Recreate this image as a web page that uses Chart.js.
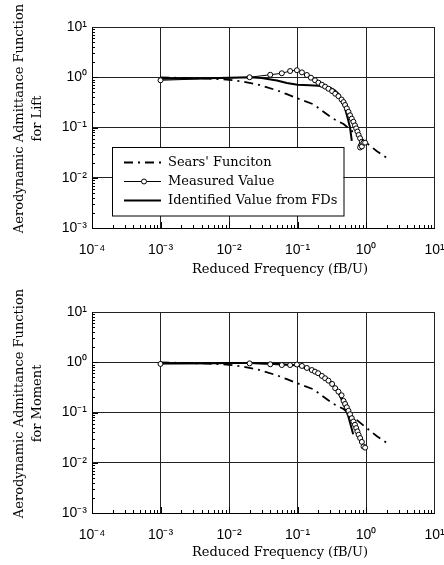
<!DOCTYPE html>
<html><head><meta charset="utf-8">
<script src="https://cdn.jsdelivr.net/npm/chart.js@4"></script>
<style>
html,body{margin:0;padding:0;background:#fff;}
#w1{position:absolute;left:0;top:0;width:444px;height:283px;}
#w2{position:absolute;left:0;top:283px;width:444px;height:282px;}
</style></head><body>
<div id="w1"><canvas id="c1"></canvas></div>
<div id="w2"><canvas id="c2"></canvas></div>
<script>
// ---- tick labels ----
const xTickValues = [1e-4, 1e-3, 1e-2, 1e-1, 1e0, 1e1];
const xTickLabels = ['10\u207B\u2074', '10\u207B\u00B3', '10\u207B\u00B2', '10\u207B\u00B9', '10\u2070', '10\u00B9'];
const yTickValues = [1e-3, 1e-2, 1e-1, 1e0, 1e1];
const yTickLabels = ['10\u207B\u00B3', '10\u207B\u00B2', '10\u207B\u00B9', '10\u2070', '10\u00B9'];

// ---- series ----
const seriesNames = ["Sears' Funciton", 'Measured Value', 'Identified Value from FDs'];

const searsX = [0.001, 0.002, 0.005, 0.01, 0.015, 0.025, 0.05, 0.07, 0.1, 0.17, 0.33, 0.47, 0.7, 1.0, 1.43, 2.0];
const searsY = [0.99, 0.97, 0.94, 0.89, 0.83, 0.73, 0.55, 0.46, 0.38, 0.29, 0.15, 0.117, 0.075, 0.05, 0.034, 0.025];

const liftMeasX = [0.001, 0.02, 0.04, 0.059, 0.078, 0.098, 0.116, 0.137, 0.157, 0.18, 0.202, 0.227, 0.253, 0.283, 0.32, 0.355, 0.396, 0.44, 0.47, 0.495, 0.525, 0.555, 0.585, 0.62, 0.655, 0.69, 0.72, 0.75, 0.78, 0.82, 0.87, 0.84, 0.82, 0.87, 0.92, 0.97];
const liftMeasY = [0.87, 1.0, 1.12, 1.2, 1.33, 1.38, 1.25, 1.11, 0.98, 0.87, 0.78, 0.71, 0.65, 0.59, 0.53, 0.47, 0.42, 0.36, 0.32, 0.28, 0.24, 0.205, 0.175, 0.15, 0.13, 0.11, 0.096, 0.083, 0.071, 0.061, 0.052, 0.044, 0.04, 0.042, 0.05, 0.05];

const liftIdX = [0.001, 0.005, 0.01, 0.02, 0.03, 0.05, 0.07, 0.1, 0.15, 0.2, 0.3, 0.35, 0.4, 0.44, 0.49, 0.52, 0.55, 0.585, 0.62];
const liftIdY = [0.93, 0.96, 0.98, 1.0, 0.97, 0.86, 0.77, 0.71, 0.69, 0.68, 0.62, 0.55, 0.46, 0.34, 0.25, 0.185, 0.14, 0.1, 0.054];

const momMeasX = [0.001, 0.02, 0.04, 0.059, 0.078, 0.098, 0.116, 0.137, 0.162, 0.18, 0.2, 0.227, 0.253, 0.283, 0.32, 0.355, 0.396, 0.44, 0.47, 0.495, 0.525, 0.555, 0.585, 0.62, 0.655, 0.69, 0.72, 0.75, 0.78, 0.82, 0.87, 0.92, 0.97];
const momMeasY = [0.925, 0.95, 0.91, 0.88, 0.88, 0.9, 0.845, 0.77, 0.70, 0.65, 0.605, 0.535, 0.48, 0.43, 0.37, 0.305, 0.26, 0.22, 0.17, 0.148, 0.127, 0.108, 0.092, 0.077, 0.066, 0.057, 0.049, 0.042, 0.036, 0.031, 0.026, 0.021, 0.02];

const momIdX = [0.001, 0.005, 0.01, 0.02, 0.05, 0.1, 0.15, 0.2, 0.25, 0.3, 0.35, 0.4, 0.45, 0.5, 0.55, 0.6, 0.65];
const momIdY = [0.95, 0.96, 0.97, 0.97, 0.93, 0.86, 0.72, 0.6, 0.5, 0.41, 0.32, 0.24, 0.17, 0.12, 0.085, 0.055, 0.037];

const xTitle = 'Reduced Frequency (fB/U)';
const yTitle1 = ['Aerodynamic Admittance Function', 'for Lift'];
const yTitle2 = ['Aerodynamic Admittance Function', 'for Moment'];

const SERIF = '"DejaVu Serif", serif';
const SANS = '"Liberation Sans", Arial, sans-serif';

function pts(xs, ys) { return xs.map((x, i) => ({x: x, y: ys[i]})); }

function makeDatasets(measX, measY, idX, idY) {
  return [
    {label: seriesNames[0], data: pts(searsX, searsY), borderColor: '#000', borderWidth: 1.8,
     borderDash: [9, 5, 2, 5], pointRadius: 0, fill: false, order: 3},
    {label: seriesNames[2], data: pts(idX, idY), borderColor: '#000', borderWidth: 2,
     pointRadius: 0, fill: false, order: 2},
    {label: seriesNames[1], data: pts(measX, measY), borderColor: '#000', borderWidth: 1,
     pointRadius: 2.5, pointBackgroundColor: '#fff', pointBorderColor: '#000', pointBorderWidth: 1,
     fill: false, order: 1}
  ];
}

const decorPlugin = {
  id: 'decor',
  afterDatasetsDraw(chart, args, opts) {
    const ctx = chart.ctx;
    const xs = chart.scales.x, ys = chart.scales.y;
    const a = chart.chartArea;
    ctx.save();
    // inside minor/major ticks
    ctx.strokeStyle = '#000';
    ctx.lineWidth = 1;
    ctx.beginPath();
    for (let e = -4; e <= 0; e++) {
      for (let k = 1; k <= 9; k++) {
        const px = Math.round(xs.getPixelForValue(k * Math.pow(10, e))) + 0.5;
        const len = k === 1 ? 6 : 3;
        ctx.moveTo(px, a.bottom); ctx.lineTo(px, a.bottom - len);
      }
    }
    for (let e = -3; e <= 0; e++) {
      for (let k = 1; k <= 9; k++) {
        const py = Math.round(ys.getPixelForValue(k * Math.pow(10, e))) + 0.5;
        const len = k === 1 ? 6 : 3;
        ctx.moveTo(a.left, py); ctx.lineTo(a.left + len, py);
      }
    }
    ctx.stroke();
    // axis titles
    ctx.fillStyle = '#000';
    ctx.font = '13px ' + SERIF;
    ctx.textAlign = 'center';
    ctx.textBaseline = 'middle';
    ctx.fillText(opts.xTitle, 280, a.bottom + opts.xTitleGap);
    const cy = (a.top + a.bottom) / 2 - 9;
    ctx.save();
    ctx.translate(20, cy);
    ctx.rotate(-Math.PI / 2);
    ctx.fillText(opts.yTitle[0], 0, 0);
    ctx.restore();
    ctx.save();
    ctx.translate(38, cy);
    ctx.rotate(-Math.PI / 2);
    ctx.fillText(opts.yTitle[1], 0, 0);
    ctx.restore();

    // legend box
    if (opts.legend) {
      const L = 112, T = 147.5, R = 343.5, B = 216;
      ctx.fillStyle = '#fff';
      ctx.fillRect(L, T, R - L, B - T);
      ctx.strokeStyle = '#000';
      ctx.lineWidth = 1;
      ctx.strokeRect(L + 0.5, T, R - L, B - T);
      const rows = [162.5, 181.5, 200.5];
      const ds = chart.data.datasets;
      const names = [seriesNames[0], seriesNames[1], seriesNames[2]];
      const dsFor = [ds[0], ds[2], ds[1]];
      for (let i = 0; i < 3; i++) {
        const d = dsFor[i];
        ctx.save();
        ctx.strokeStyle = d.borderColor;
        ctx.lineWidth = d.borderWidth;
        ctx.setLineDash(d.borderDash || []);
        ctx.beginPath();
        ctx.moveTo(124, rows[i]); ctx.lineTo(161, rows[i]);
        ctx.stroke();
        ctx.setLineDash([]);
        if (d.pointRadius > 0) {
          ctx.beginPath();
          ctx.arc(144, rows[i], d.pointRadius, 0, Math.PI * 2);
          ctx.fillStyle = '#fff';
          ctx.fill();
          ctx.lineWidth = 1;
          ctx.stroke();
        }
        ctx.restore();
        ctx.fillStyle = '#000';
        ctx.font = '13px ' + SERIF;
        ctx.textAlign = 'left';
        ctx.textBaseline = 'middle';
        ctx.fillText(names[i], 168, rows[i] + 0.5);
      }
    }
    ctx.restore();
  }
};

function makeChart(id, datasets, topPad, xHeight, yTitle, legend) {
  return new Chart(document.getElementById(id), {
    type: 'line',
    data: {datasets: datasets},
    options: {
      responsive: true,
      maintainAspectRatio: false,
      animation: false,
      devicePixelRatio: 1,
      layout: {padding: {top: topPad, right: 9.5, left: 0, bottom: 0}},
      plugins: {
        legend: {display: false},
        tooltip: {enabled: false},
        decor: {xTitle: xTitle, yTitle: yTitle, legend: legend, xTitleGap: legend ? 42 : 40}
      },
      elements: {line: {tension: 0}},
      scales: {
        x: {
          type: 'logarithmic', min: 1e-4, max: 10,
          afterBuildTicks: s => { s.ticks = xTickValues.map(v => ({value: v})); },
          afterFit: s => { s.height = xHeight; s.paddingLeft = 0; s.paddingRight = 0; },
          ticks: {
            autoSkip: false, maxRotation: 0, padding: 14, color: '#000',
            font: {family: SANS, size: 14},
            callback: (v, i) => xTickLabels[i]
          },
          grid: {color: '#222', lineWidth: 1, drawTicks: false},
          border: {display: true, color: '#000', width: 1}
        },
        y: {
          type: 'logarithmic', min: 1e-3, max: 10,
          afterBuildTicks: s => { s.ticks = yTickValues.map(v => ({value: v})); },
          afterFit: s => { s.width = 92; s.paddingTop = 0; s.paddingBottom = 0; },
          ticks: {
            autoSkip: false, padding: 5, color: '#000',
            font: {family: SANS, size: 14},
            callback: (v, i) => yTickLabels[i]
          },
          grid: {color: '#222', lineWidth: 1, drawTicks: false},
          border: {display: true, color: '#000', width: 1}
        }
      }
    },
    plugins: [decorPlugin]
  });
}

makeChart('c1', makeDatasets(liftMeasX, liftMeasY, liftIdX, liftIdY), 27, 55, yTitle1, true);
makeChart('c2', makeDatasets(momMeasX, momMeasY, momIdX, momIdY), 29, 52, yTitle2, false);
</script>
</body></html>
